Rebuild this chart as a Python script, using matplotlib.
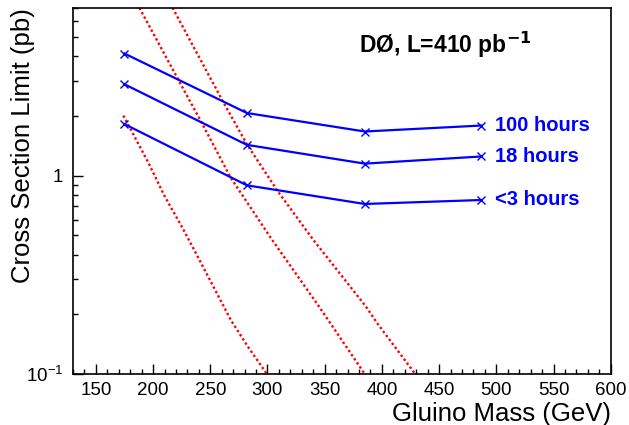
import numpy as np
import matplotlib
matplotlib.use("Agg")
import matplotlib.pyplot as plt

plt.rcParams['font.family'] = ['Liberation Sans', 'DejaVu Sans']
plt.rcParams['mathtext.default'] = 'regular'

# Limits (pb) vs gluino mass (GeV)
mass = [175, 282, 385, 487]
limit_100h = [4.13, 2.07, 1.67, 1.79]
limit_18h = [2.89, 1.43, 1.15, 1.25]
limit_3h = [1.82, 0.894, 0.72, 0.754]
labels = ["100 hours", "18 hours", "<3 hours"]

# theory curves (red dotted)
th1_mass = [174, 196, 210, 225, 239, 254, 268, 283, 300]
th1_xs = [2.01, 1.16, 0.79, 0.555, 0.391, 0.267, 0.187, 0.137, 0.099]
th2_mass = [180, 188, 222, 241, 268, 304, 345, 383, 390]
th2_xs = [8.7, 7.03, 3.05, 1.92, 0.973, 0.475, 0.219, 0.104, 0.091]
th3_mass = [205, 217, 261, 282, 309, 340, 386, 396, 428, 435]
th3_xs = [9.5, 7.03, 2.37, 1.44, 0.834, 0.475, 0.219, 0.180, 0.102, 0.091]

fig = plt.figure(figsize=(6.29, 4.25), dpi=100)
ax = fig.add_axes([0.116, 0.12, 0.855, 0.861])

for m, xs in [(th1_mass, th1_xs), (th2_mass, th2_xs), (th3_mass, th3_xs)]:
    ax.plot(m, xs, color='red', lw=1.7, ls=(0, (1, 1.1)))

for lim, lab in zip([limit_100h, limit_18h, limit_3h], labels):
    ax.plot(mass, lim, color='blue', lw=1.6, marker='x', ms=5.5, mew=1.0)
    ax.annotate(lab, (mass[-1], lim[-1]), xytext=(10, 0), textcoords='offset points',
                color='blue', fontsize=14.5, fontweight='bold', va='center', ha='left')

ax.text(0.532, 0.899, r"DØ, L=410 pb$^{\mathbf{-1}}$", transform=ax.transAxes,
        fontsize=16.5, fontweight='bold', va='center', ha='left')

ax.set_yscale('log')
ax.set_xlim(130, 600)
ax.set_ylim(0.1, 7.0)
ax.set_xticks(np.arange(150, 601, 50))
ax.set_xticks(np.arange(130, 601, 10), minor=True)
ax.set_yticks([0.1, 1])
ax.set_yticklabels([r"$10^{-1}$", "1"])
ax.tick_params(which='both', direction='in', top=False, right=False, labelsize=13.5, width=1.0)
ax.tick_params(axis='x', which='major', length=7, pad=6)
ax.tick_params(axis='x', which='minor', length=3.5)
ax.tick_params(axis='y', which='major', length=7, pad=7)
ax.tick_params(axis='y', which='minor', length=3.5, labelleft=False)
for s in ax.spines.values():
    s.set_linewidth(1.2)

ax.set_xlabel("Gluino Mass (GeV)", fontsize=18.5, loc='right', labelpad=2)
ax.set_ylabel("Cross Section Limit (pb)", fontsize=18.5, loc='top')
ax.yaxis.set_label_coords(-0.07, 1.0)

plt.savefig("out.png", dpi=100)
